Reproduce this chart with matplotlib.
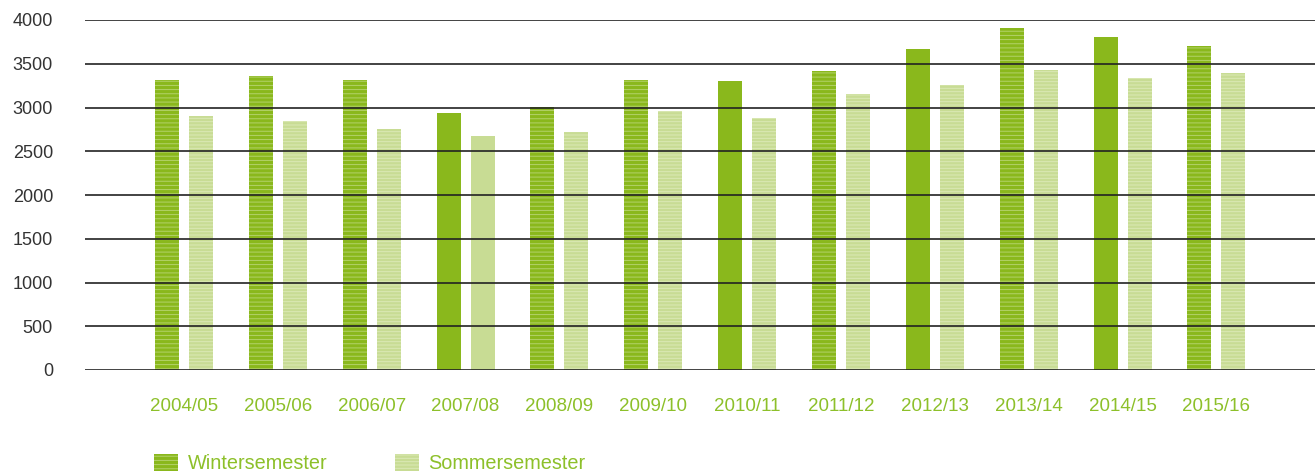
import matplotlib
matplotlib.use("Agg")
import matplotlib.pyplot as plt
import numpy as np

plt.rcParams['font.family'] = ['Liberation Sans', 'DejaVu Sans']
plt.rcParams['hatch.linewidth'] = 0.7

semester = ['2004/05', '2005/06', '2006/07', '2007/08', '2008/09', '2009/10',
            '2010/11', '2011/12', '2012/13', '2013/14', '2014/15', '2015/16']
winter = [3320, 3360, 3320, 2940, 3010, 3320, 3300, 3420, 3670, 3910, 3810, 3700]
sommer = [2900, 2850, 2750, 2670, 2720, 2960, 2880, 3150, 3260, 3430, 3340, 3390]
# which bars are drawn plain instead of striped
winter_plain = [False, False, False, True, False, False, True, False, True, False, True, False]
sommer_plain = [False, False, False, True, False, False, False, False, False, False, False, False]

green = '#8ab81c'
green_line = '#b3d26a'
light = '#c8dc94'
light_line = '#dbe9b6'
label_green = '#8dc02a'

fig = plt.figure(figsize=(13.15, 4.71), dpi=100)
ax = fig.add_axes([85 / 1315, 101 / 471, 1 - 85 / 1315, 350 / 471])

x = np.arange(len(semester))
w = 0.256
off = 0.181

bw = ax.bar(x - off, winter, w, color=green, edgecolor=green_line, linewidth=0,
            hatch=['' if p else '----' for p in winter_plain], label='Wintersemester')
bs = ax.bar(x + off, sommer, w, color=light, edgecolor=light_line, linewidth=0,
            hatch=['' if p else '-----' for p in sommer_plain], label='Sommersemester')

ax.set_ylim(0, 4000)
ax.set_xlim(-1.054, len(semester) - 1 + 1.05)
ax.set_yticks(range(0, 4001, 500))
ax.set_xticks(x)
ax.set_xticklabels(semester)
ax.grid(axis='y', color='#222222', linewidth=1.2)
ax.set_axisbelow(False)
for s in ax.spines.values():
    s.set_visible(False)
ax.tick_params(axis='y', length=0, pad=23, labelsize=13, labelcolor='#333333')
ax.tick_params(axis='x', length=0, pad=20, labelsize=13.5, labelcolor=label_green)

leg = fig.legend(handles=[bw, bs], loc='lower left', bbox_to_anchor=(146 / 1315, -0.022),
                 ncol=2, frameon=False, fontsize=14.3, handlelength=1.2, handleheight=0.9,
                 handletextpad=0.5, columnspacing=3.4, borderaxespad=0)
for t in leg.get_texts():
    t.set_color(label_green)

fig.savefig('out.png', dpi=100)
